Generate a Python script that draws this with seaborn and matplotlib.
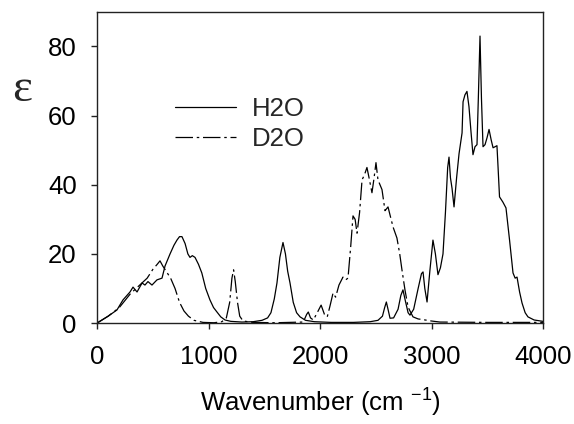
import numpy as np
import pandas as pd
import seaborn as sns
import matplotlib.pyplot as plt

# wavenumber (cm-1) and molar absorptivity
h2o_wn = [0, 100, 179, 233, 296, 323, 359, 404, 430, 457, 493, 538, 583, 610,
          655, 690, 717, 740, 762, 790, 815, 834, 855, 879, 910, 940, 975, 1013,
          1045, 1076, 1110, 1148, 1200, 1300, 1400, 1480, 1530, 1560, 1590,
          1614, 1640, 1668, 1690, 1710, 1731, 1760, 1790, 1821, 1870, 1950,
          2100, 2300, 2450, 2520, 2560, 2580, 2595, 2610, 2628, 2660, 2700,
          2725, 2744, 2765, 2790, 2807, 2840, 2880, 2910, 2924, 2940, 2960,
          2985, 3013, 3035, 3058, 3080, 3103, 3125, 3145, 3157, 3170, 3184,
          3202, 3225, 3247, 3265, 3274, 3283, 3300, 3318, 3336, 3355, 3372,
          3390, 3408, 3420, 3435, 3448, 3462, 3480, 3498, 3516, 3535, 3552,
          3570, 3587, 3597, 3610, 3640, 3668, 3700, 3731, 3750, 3767, 3790,
          3812, 3840, 3865, 3920, 4000]
h2o_eps = [0, 2, 3.8, 6.7, 9, 10.4, 9, 11.6, 11, 12, 11, 12.5, 13, 16.5,
           20, 22.5, 24, 25, 25, 23, 20, 19, 19.5, 19, 17, 14.5, 10, 6.7,
           4.5, 3.2, 1.8, 0.9, 0.5, 0.3, 0.4, 0.8, 1.5, 3, 7,
           11.6, 19, 23.3, 20, 15, 11.6, 6, 3, 1.8, 0.8, 0.4,
           0.2, 0.2, 0.4, 0.8, 2, 4.5, 6.1, 4, 1.4, 1.5, 4,
           8, 9.6, 6.5, 3, 2.3, 4, 10, 14.3, 14.8, 10, 6.1,
           15, 24, 20, 14, 16, 20, 32, 45, 48, 42, 39,
           33.6, 42, 49, 53, 55, 64, 66, 67, 62.6, 55, 48.7,
           51, 51.6, 65, 83, 65, 51, 51.6, 53.6, 56, 53, 50.7,
           51, 51.3, 45, 36.5, 35, 33.3, 24, 14.5, 13, 13.3, 9,
           5.8, 3, 1.8, 0.9, 0.5]

d2o_wn = [0, 100, 200, 300, 400, 450, 500, 540, 565, 590, 620, 660, 700, 740,
          780, 820, 870, 950, 1050, 1120, 1160, 1190, 1210, 1225, 1240, 1260,
          1280, 1310, 1400, 1600, 1850, 1880, 1895, 1915, 1940, 1975, 2010,
          2040, 2065, 2090, 2117, 2140, 2170, 2206, 2230, 2251, 2275, 2296,
          2315, 2332, 2355, 2377, 2400, 2421, 2440, 2466, 2485, 2502, 2520,
          2556, 2583, 2610, 2630, 2655, 2690, 2715, 2735, 2762, 2790, 2834,
          2880, 2924, 3000, 3076, 3500, 4000]
d2o_eps = [0, 2, 4.5, 8.5, 11.5, 13, 15.5, 17, 18, 16.5, 15, 13, 10, 6,
           3.5, 2, 0.8, 0.2, 0.1, 0.4, 1.5, 6, 13, 15.4, 12, 6,
           2, 0.6, 0.2, 0.1, 0.3, 2.5, 3.2, 1.5, 0.9, 3, 5.2,
           2.5, 1.8, 5, 8.7, 7.5, 11, 13.3, 12.5, 13, 22, 31,
           30, 26, 32, 41.4, 43, 45, 42, 37.7, 42, 46.4, 41.4,
           38.6, 32.5, 33.6, 31, 27.8, 24.6, 20, 15.4, 9.6, 4.6, 1.8,
           1.2, 1.0, 0.6, 0.3, 0.2, 0.2]

sns.set_style("ticks")
plt.rcParams["font.family"] = ["Liberation Sans", "DejaVu Sans"]
plt.rcParams["mathtext.fontset"] = "custom"
plt.rcParams["mathtext.rm"] = "Liberation Sans"
plt.rcParams["mathtext.it"] = "Liberation Sans"

df_h = pd.DataFrame({"wn": h2o_wn, "eps": h2o_eps})
df_d = pd.DataFrame({"wn": d2o_wn, "eps": d2o_eps})

fig = plt.figure(figsize=(5.74, 4.24), dpi=100)
ax = fig.add_axes([0.169, 0.238, 0.777, 0.734])

sns.lineplot(data=df_h, x="wn", y="eps", ax=ax, color="black",
             linewidth=0.9, label="H2O", sort=False)
sns.lineplot(data=df_d, x="wn", y="eps", ax=ax, color="black",
             linewidth=0.9, label="D2O", sort=False,
             linestyle=(0, (14, 3, 2, 3)))

ax.set_xlim(0, 4000)
ax.set_ylim(0, 90)
ax.set_xticks([0, 1000, 2000, 3000, 4000])
ax.set_yticks([0, 20, 40, 60, 80])
ax.tick_params(labelsize=18.5, length=4.5, width=1, color="#222222",
               labelcolor="black")
ax.tick_params(axis="x", pad=11)
ax.tick_params(axis="y", pad=10)
for s in ax.spines.values():
    s.set_visible(True)
    s.set_color("#222222")
    s.set_linewidth(1)

ax.set_xlabel("Wavenumber (cm $^{-1}$)", fontsize=18.5, labelpad=13,
              color="black")
ax.set_ylabel("")
fig.text(0.038, 0.788, "ε", fontsize=34, ha="center", va="center",
         family=["Liberation Serif", "DejaVu Serif"])

ax.legend(loc="center", bbox_to_anchor=(0.32, 0.64), frameon=False,
          fontsize=18.5, handlelength=2.4, labelspacing=0.25,
          handletextpad=0.6)

fig.savefig("out.png", dpi=100)
